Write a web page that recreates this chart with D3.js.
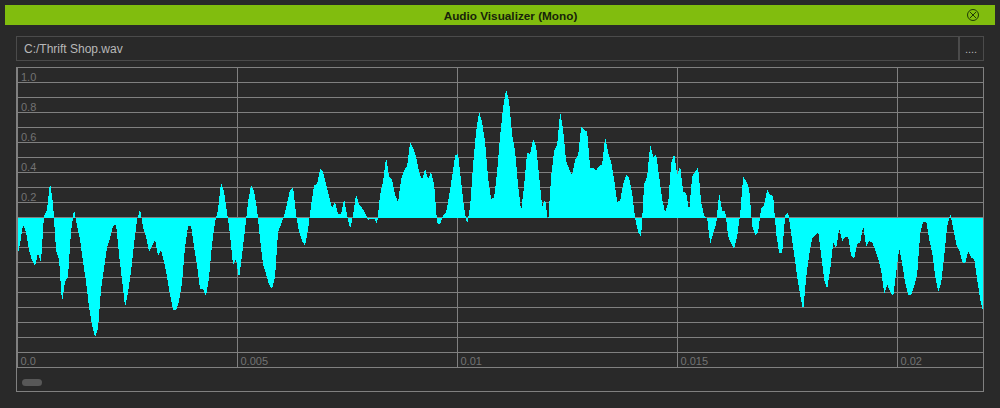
<!DOCTYPE html>
<html>
<head>
<meta charset="UTF-8">
<title>Audio Visualizer (Mono)</title>
<script src="https://d3js.org/d3.v7.min.js"></script>
<style>
  html, body { margin: 0; padding: 0; background: #292929; overflow: hidden; }
  svg { display: block; }
  text { font-family: "Liberation Sans", Arial, sans-serif; }
</style>
</head>
<body>
<div id="chart"></div>
<script>
// one amplitude reading every sampleStep seconds
const amplitudes = [
  -0.28,-0.18,-0.05,-0.10,-0.22,-0.29,-0.33,-0.24,-0.30,0.01,0.05,0.23,0.09,-0.22,-0.28,-0.57,-0.43,-0.40,-0.10,0.05,
  -0.06,-0.15,-0.30,-0.43,-0.60,-0.72,-0.80,-0.74,-0.48,-0.34,-0.20,-0.14,-0.06,-0.05,-0.25,-0.42,-0.60,-0.50,-0.36,-0.18,
  -0.02,0.05,-0.07,-0.13,-0.23,-0.19,-0.15,-0.26,-0.22,-0.30,-0.40,-0.52,-0.62,-0.62,-0.56,-0.44,-0.20,-0.06,-0.06,-0.20,
  -0.32,-0.48,-0.48,-0.53,-0.40,-0.18,-0.03,0.05,0.23,0.17,0.03,-0.12,-0.32,-0.28,-0.41,-0.25,-0.08,0.10,0.21,0.17,
  0.05,-0.15,-0.32,-0.38,-0.45,-0.48,-0.40,-0.10,-0.05,0.01,0.09,0.18,0.20,0.02,-0.10,-0.16,-0.19,-0.08,0.08,0.21,
  0.22,0.32,0.30,0.22,0.14,0.06,0.10,0.02,0.02,0.12,0.01,-0.08,0.01,0.15,0.08,0.06,0.03,-0.02,-0.01,-0.01,
  -0.05,0.15,0.24,0.40,0.27,0.25,0.15,0.10,0.25,0.31,0.34,0.50,0.46,0.40,0.30,0.25,0.32,0.25,0.30,0.22,
  -0.04,-0.05,0.01,0.03,0.14,0.27,0.41,0.42,0.24,0.06,-0.05,0.07,0.35,0.57,0.70,0.63,0.50,0.26,0.12,0.13,
  0.30,0.54,0.73,0.85,0.77,0.55,0.44,0.21,0.04,0.21,0.43,0.42,0.52,0.47,0.27,0.07,0.12,-0.04,0.27,0.44,
  0.48,0.70,0.58,0.37,0.32,0.28,0.38,0.41,0.60,0.58,0.57,0.33,0.33,0.31,0.34,0.35,0.53,0.43,0.37,0.25,
  0.10,0.11,0.22,0.28,0.26,0.16,-0.01,-0.10,-0.13,0.22,0.27,0.48,0.40,0.42,0.27,0.12,0.03,0.09,0.36,0.42,
  0.28,0.34,0.17,0.16,0.04,0.27,0.30,0.33,0.10,0.01,-0.01,-0.18,-0.11,-0.05,0.16,0.04,0.04,-0.13,-0.18,-0.21,
  -0.13,0.02,0.27,0.24,0.19,-0.06,-0.12,-0.10,0.06,0.08,0.18,0.15,0.14,-0.11,-0.24,-0.24,0.01,0.03,-0.11,-0.25,
  -0.40,-0.52,-0.62,-0.40,-0.25,-0.14,-0.12,-0.10,-0.26,-0.42,-0.48,-0.35,-0.17,-0.21,-0.08,-0.16,-0.13,-0.13,-0.26,-0.28,
  -0.18,-0.17,-0.06,-0.20,-0.16,-0.17,-0.22,-0.28,-0.36,-0.51,-0.45,-0.50,-0.53,-0.37,-0.21,-0.31,-0.44,-0.52,-0.52,-0.46,
  -0.38,-0.11,-0.03,-0.03,-0.15,-0.24,-0.40,-0.50,-0.44,-0.26,-0.06,0.02,-0.08,-0.18,-0.22,-0.30,-0.31,-0.23,-0.27,-0.28,
  -0.42,-0.55,-0.63
];
const sampleStep = 0.0000682;

const timeTicks = [0, 0.005, 0.01, 0.015, 0.02];
const timeLabels = ["0.0", "0.005", "0.01", "0.015", "0.02"];
const ampLines = [1, 0.9, 0.8, 0.7, 0.6, 0.5, 0.4, 0.3, 0.2, 0.1, 0, -0.1, -0.2, -0.3, -0.4, -0.5, -0.6, -0.7, -0.8, -0.9, -1];
const ampLabels = [1, 0.8, 0.6, 0.4, 0.2];

const title = "Audio Visualizer (Mono)";
const fileName = "C:/Thrift Shop.wav";

const svg = d3.select("#chart").append("svg")
  .attr("width", 1000)
  .attr("height", 408);

svg.append("rect").attr("width", 1000).attr("height", 408).attr("fill", "#292929");

// title bar
svg.append("rect").attr("x", 5).attr("y", 5).attr("width", 990).attr("height", 20).attr("fill", "#81bd0e");
svg.append("text").attr("x", 510.5).attr("y", 20).attr("text-anchor", "middle")
  .attr("font-size", 11.75).attr("font-weight", "bold").attr("fill", "#17230a").text(title);

const close = svg.append("g").attr("transform", "translate(973,15)")
  .attr("fill", "none").attr("stroke", "#1e3a06").attr("stroke-width", 1);
close.append("circle").attr("r", 5.5);
close.append("path").attr("d", "M-3,-3L3,3M3,-3L-3,3");

// file row
svg.append("rect").attr("x", 16.5).attr("y", 36.5).attr("width", 942).attr("height", 24)
  .attr("fill", "none").attr("stroke", "#4b4b4b");
svg.append("rect").attr("x", 959.5).attr("y", 36.5).attr("width", 24).attr("height", 24)
  .attr("fill", "none").attr("stroke", "#4b4b4b");
svg.append("text").attr("x", 24).attr("y", 53).attr("font-size", 12).attr("fill", "#b8b8b8").text(fileName);
svg.append("text").attr("x", 971).attr("y", 53).attr("text-anchor", "middle")
  .attr("font-size", 11).attr("fill", "#b8b8b8").text("....");

// plot
const x = d3.scaleLinear().domain([0, 0.021955]).range([17, 983]);
const y = d3.scaleLinear().domain([1, -1]).range([67, 367]);

const xAxis = d3.axisBottom(x).tickValues(timeTicks).tickSize(300)
  .tickFormat((d, i) => timeLabels[i]);
const yAxis = d3.axisLeft(y).tickValues(ampLines).tickSize(-966)
  .tickFormat(d => ampLabels.includes(d) ? d.toFixed(1) : "");

const xg = svg.append("g").attr("transform", "translate(0,67)").call(xAxis);
xg.select(".domain").remove();
xg.selectAll("line").attr("stroke", "#808080").attr("shape-rendering", "crispEdges");
xg.selectAll("text").attr("y", 298).attr("dy", 0).attr("x", 3).attr("text-anchor", "start")
  .attr("font-size", 11).attr("font-family", "'DejaVu Sans', sans-serif").attr("fill", "#737373");

const yg = svg.append("g").attr("transform", "translate(17,0)").call(yAxis);
yg.select(".domain").remove();
yg.selectAll("line").attr("stroke", "#808080").attr("shape-rendering", "crispEdges");
yg.selectAll("text").attr("x", 4).attr("dy", 13).attr("text-anchor", "start")
  .attr("font-size", 11).attr("font-family", "'DejaVu Sans', sans-serif").attr("fill", "#737373");

// waveform
const area = d3.area()
  .x((d, i) => x(i * sampleStep))
  .y0(y(0) + 0.5)
  .y1(d => y(d))
  .curve(d3.curveLinear);

svg.append("path")
  .datum(amplitudes)
  .attr("d", area)
  .attr("fill", "#00ffff")
  .attr("shape-rendering", "crispEdges");

// outer frame and scroll thumb
svg.append("rect").attr("x", 16.5).attr("y", 67.5).attr("width", 967).attr("height", 324)
  .attr("fill", "none").attr("stroke", "#808080");
svg.append("line").attr("x1", 17.5).attr("x2", 17.5).attr("y1", 67).attr("y2", 367)
  .attr("stroke", "#808080");
svg.append("rect").attr("x", 22).attr("y", 379).attr("width", 20).attr("height", 7).attr("rx", 3.5)
  .attr("fill", "#585858");
</script>
</body>
</html>
